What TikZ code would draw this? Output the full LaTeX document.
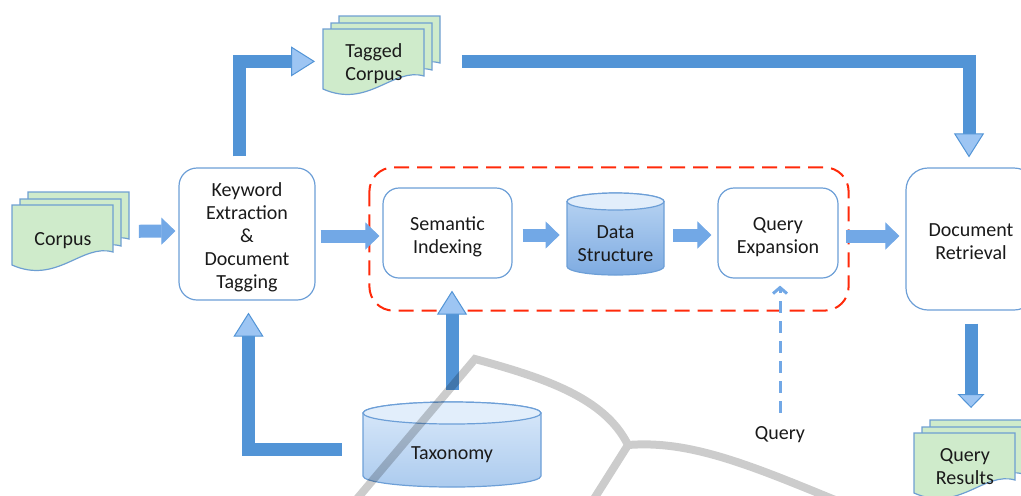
\documentclass[tikz,border=0pt]{standalone}
\usepackage{fontspec}
\setmainfont{Carlito}
\usetikzlibrary{arrows.meta,calc,positioning}
\definecolor{boxline}{HTML}{6D9FD7}
\definecolor{sheetfill}{HTML}{CFEBCB}
\definecolor{sheetline}{HTML}{6E9FD2}
\definecolor{arrowmid}{HTML}{72A8E6}
\definecolor{arrowdark}{HTML}{5294D6}
\definecolor{arrowlight}{HTML}{9DC5F3}
\definecolor{groupred}{HTML}{FF2A0A}
\definecolor{drummid}{HTML}{BAD5F3}
\definecolor{drumdark}{HTML}{7EABE1}
\definecolor{drumtop}{HTML}{E2EEFB}
\definecolor{taxlight}{HTML}{DAE9FA}
\definecolor{taxmid}{HTML}{ACCBEE}
\definecolor{ink}{HTML}{1A1A1A}
\newcommand{\labelfont}{\fontsize{10}{11.5}\selectfont}
\newcommand{\sunk}[2]{\raisebox{-#1}[\height][\depth]{\begin{tabular}{@{}c@{}}#2\end{tabular}}}
\newcommand{\docstack}[4]{%
  \foreach \d/\e in {16/13,8/6,0/0}
    \filldraw[sheet, shift={(#2+\d,#3-\e)}] (0,0) -- (101,0) -- (101,47) .. controls (70,38) and (45,80) .. (0,60) -- cycle;
  \node[doclabel] (#1) at (#2,#3) {\sunk{1pt}{#4}};}
\newcommand{\drum}[6]{%
  \path[draw=boxline, line width=0.6pt, top color=#5, bottom color=#6]
    ($(#1)+(-#2,-#3+#4)$) arc[start angle=180, end angle=360, x radius=#2, y radius=#4]
    -- ($(#1)+(#2,#3-#4)$) arc[start angle=0, end angle=180, x radius=#2, y radius=#4] -- cycle;
  \path[draw=boxline, line width=0.6pt, fill=drumtop] ($(#1)+(0,#3-#4)$) ellipse[x radius=#2, y radius=#4];}
\begin{document}
\begin{tikzpicture}[x=0.5pt, y=-0.5pt,
    box/.style={draw=boxline, line width=0.6pt, rounded corners=9pt, fill=white, align=center, text=ink, font=\labelfont},
    sheet/.style={draw=sheetline, line width=0.6pt, fill=sheetfill},
    doclabel/.style={anchor=north west, minimum width=50.5pt, minimum height=33pt, align=center, text=ink, font=\labelfont},
    drumlabel/.style={align=center, text=ink, font=\labelfont},
    arr/.style={line width=6.5pt, draw=arrowmid, -{Triangle[width=13.5pt, length=7pt, line width=0.5pt, fill=arrowmid]}},
    bigarr/.style={line width=6.5pt, line join=miter, draw=arrowdark, -{Triangle[width=15pt, length=12pt, line width=0.5pt, fill=arrowlight]}},
    downarr/.style={line width=6.5pt, draw=arrowdark, -{Triangle[width=13.5pt, length=7pt, line width=0.5pt, fill=arrowlight]}},
    queryarr/.style={draw=arrowmid, line width=1.5pt, dash pattern=on 6pt off 4pt, -{Straight Barb[length=3pt, width=7pt]}},
    group/.style={draw=groupred, line width=1pt, dash pattern=on 7.5pt off 4pt, rounded corners=12pt}]
    \useasboundingbox (0,0) rectangle (1021,495);

    \docstack{corpus}{12}{205}{Corpus}
    \docstack{tagged}{323}{29}{Tagged\\Corpus}
    \docstack{results}{914}{433}{Query\\Results}
    \drum{615.5,234}{24.25pt}{20.5pt}{4.25pt}{drummid}{drumdark}
    \drum{452,444.5}{44.5pt}{21.25pt}{5.5pt}{taxlight}{taxmid}

    \node[box, minimum width=68pt, minimum height=66pt] (kw) at (247,234) {\sunk{2pt}{Keyword\\Extraction\\\&\\Document\\Tagging}};
    \node[box, minimum width=64.5pt, minimum height=45pt, rounded corners=8pt] (semidx) at (447.5,233) {\sunk{2pt}{Semantic\\Indexing}};
    \node[drumlabel, minimum width=48.5pt, minimum height=41pt] (data) at (615.5,234) {\sunk{5.5pt}{Data\\Structure}};
    \node[box, minimum width=60pt, minimum height=45pt, rounded corners=8pt] (qexp) at (778,233) {\sunk{2pt}{Query\\Expansion}};
    \node[box, minimum width=65pt, minimum height=71pt, rounded corners=11pt] (docret) at (971,239) {\sunk{2pt}{Document\\Retrieval}};
    \node[drumlabel, minimum width=89pt, minimum height=42.5pt] (tax) at (452,444.5) {\sunk{5.25pt}{Taxonomy}};
    \node[text=ink, font=\labelfont] (query) at (780,435) {Query};

    \draw[group] ($(semidx.north west)+(-13,-20)$) rectangle ($(qexp.south east)+(10,32)$);

    \draw[arr, shorten <=12.5pt, shorten >=1.5pt] ([yshift=3.5pt]corpus.east) -- ([yshift=1.5pt]kw.west);
    \draw[arr, shorten <=2.5pt, shorten >=1.5pt] ([yshift=-1pt]kw.east) -- ([yshift=-1.5pt]semidx.west);
    \draw[arr, shorten <=5pt, shorten >=3.5pt] ([yshift=-1pt]semidx.east) -- ([yshift=-0.5pt]data.west);
    \draw[arr, shorten <=4.5pt, shorten >=3pt] ([yshift=-0.5pt]data.east) -- ([yshift=-1pt]qexp.west);
    \draw[arr, shorten <=3.5pt, shorten >=3pt] ([yshift=-1.5pt]qexp.east) -- ([yshift=1.5pt]docret.west);
    \draw[bigarr, shorten <=5.5pt, shorten >=4pt] ([xshift=-4pt]kw.north) |- ([yshift=0.5pt]tagged.west);
    \draw[bigarr, shorten <=18.5pt, shorten >=5pt] ([yshift=0.5pt]tagged.east) -| ([xshift=-1pt]docret.north);
    \draw[downarr, shorten <=6.5pt, shorten >=12.5pt] (docret.south) -- (docret.south |- results.north);
    \draw[bigarr, shorten <=6pt, shorten >=6pt] (tax.north) -- (tax.north |- semidx.south);
    \draw[bigarr, shorten <=10.5pt, shorten >=6pt] ([yshift=-2.5pt]tax.west) -| ([xshift=0.75pt]kw.south);
    \draw[queryarr, shorten <=3.5pt, shorten >=3.5pt] (query.north) -- (query.north |- qexp.south);

    \draw[black, opacity=0.2, line width=4pt] (356,500) -- (475,359) .. controls (545,378) and (605,398) .. (628,445) .. controls (690,440) and (750,465) .. (840,502) (628,445) -- (592,502);
\end{tikzpicture}
\end{document}
